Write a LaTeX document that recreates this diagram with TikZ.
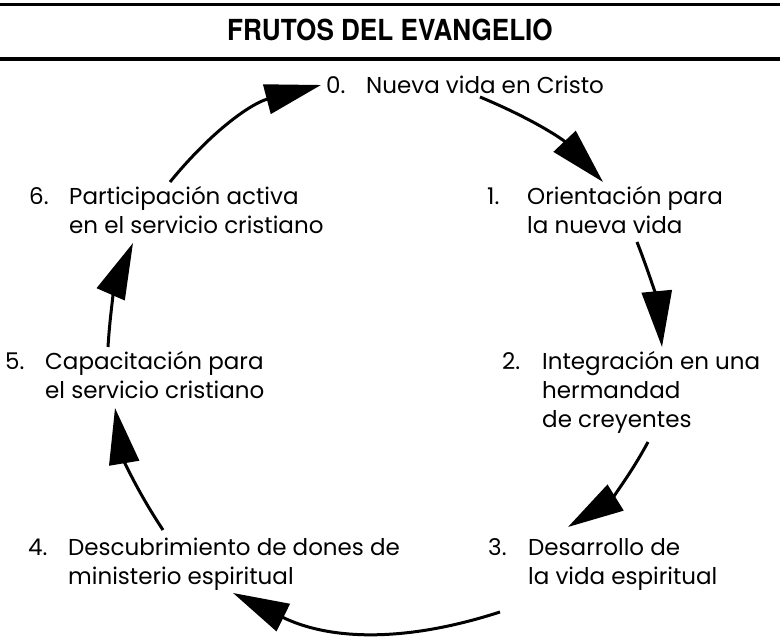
\documentclass[tikz,border=0pt]{standalone}
\usepackage{graphicx}
\usepackage{fontspec}
\setmainfont{Poppins}
\newfontfamily\titlefont{TeX Gyre Heros}
\usetikzlibrary{arrows.meta}

% several lines, hanging from the first baseline
\newcommand{\lines}[1]{\begin{tabular}[t]{@{}l@{}}#1\end{tabular}}

\tikzset{
	flow/.style={line width=3pt, -{Triangle[length=56pt,width=30pt]}},
	stage/.style={anchor=base west, inner sep=0pt, font=\fontsize{23}{29}\selectfont},
	num/.style={stage}
}

\begin{document}
\begin{tikzpicture}[x=1pt, y=1pt]
	\useasboundingbox (0,0) rectangle (780,637);

	% title between the two rules
	\draw[line width=3pt] (0,632) -- (780,632);
	\draw[line width=4pt] (0,578) -- (780,578);
	\node[anchor=base, inner sep=0pt, font=\titlefont\bfseries\fontsize{29}{29}\selectfont] (title) at (390,596)
		{\scalebox{0.9}[1]{FRUTOS DEL EVANGELIO}};

	% the seven stages
	\node[num] (n0) at (326,543) {0.};
	\node[stage] (t0) at ([xshift=40pt]n0.base west) {Nueva vida en Cristo};
	\node[num] (n1) at (487,432) {1.};
	\node[stage] (t1) at ([xshift=40pt]n1.base west) {\lines{Orientación para\\la nueva vida}};
	\node[num] (n2) at (502,267) {2.};
	\node[stage] (t2) at ([xshift=40pt]n2.base west) {\lines{Integración en una\\hermandad\\de creyentes}};
	\node[num] (n3) at (488,81) {3.};
	\node[stage] (t3) at ([xshift=40pt]n3.base west) {\lines{Desarrollo de\\la vida espiritual}};
	\node[num] (n4) at (28,81) {4.};
	\node[stage] (t4) at ([xshift=40pt]n4.base west) {\lines{Descubrimiento de dones de\\ministerio espiritual}};
	\node[num] (n5) at (5,267) {5.};
	\node[stage] (t5) at ([xshift=40pt]n5.base west) {\lines{Capacitación para\\el servicio cristiano}};
	\node[num] (n6) at (29,432) {6.};
	\node[stage] (t6) at ([xshift=40pt]n6.base west) {\lines{Participación activa\\en el servicio cristiano}};

	% the cycle
	\draw[flow] ([shift={(101,23)}]t6.base west) to[bend left=18] ([shift={(-5,9)}]n0.base west);
	\draw[flow] ([shift={(114,-3)}]t0.base west) to[bend left=12] ([shift={(76,23)}]t1.base west);
	\draw[flow] ([shift={(110,-37)}]t1.base west) to[bend left=8] ([shift={(120,23)}]t2.base west);
	\draw[flow] ([shift={(106,-72)}]t2.base west) to[bend left=15] ([shift={(40,29)}]t3.base west);
	\draw[flow] ([shift={(-28,-56)}]t3.base west) to[bend left=22] ([shift={(165,-37)}]t4.base west);
	\draw[flow] ([shift={(95,26)}]t4.base west) to[bend left=12] ([shift={(70,-38)}]t5.base west);
	\draw[flow] ([shift={(63,23)}]t5.base west) to[bend left=10] ([shift={(64,-38)}]t6.base west);
\end{tikzpicture}
\end{document}
